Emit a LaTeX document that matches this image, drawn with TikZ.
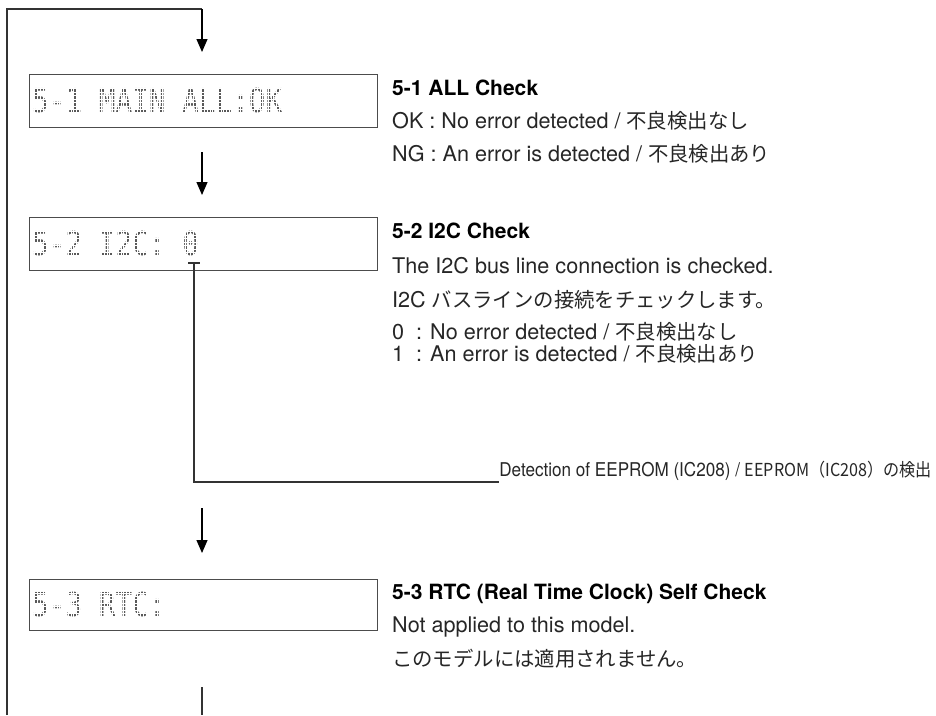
\documentclass[tikz,border=0pt]{standalone}
\usepackage{fontspec}
\setmainfont{TeX Gyre Heros}
\newfontfamily\jp{Noto Sans CJK JP}[Scale=0.943]
\newfontfamily\lcd{DejaVu Sans Mono}
\usetikzlibrary{arrows.meta}
\begin{document}
\begin{tikzpicture}[x=1pt,y=-1pt,
  lcdbox/.style={draw=black!70, line width=1.1pt, minimum width=348pt, minimum height=53pt, anchor=north west, inner sep=0pt},
  lcdtext/.style={anchor=base west, inner sep=0pt, text=black!65, font=\lcd\fontsize{27.7}{30}\selectfont},
  body/.style={anchor=base west, inner sep=0pt, text=black!85, font=\fontsize{21.6}{24}\selectfont},
  small/.style={anchor=base west, inner sep=0pt, text=black!85, font=\fontsize{19}{22}\selectfont},
  head/.style={anchor=base west, inner sep=0pt, text=black, font=\bfseries\fontsize{21}{24}\selectfont},
  conn/.style={line width=1.1pt, draw=black!80},
  arr/.style={line width=1.2pt, draw=black, -{Triangle[width=11pt,length=13pt]}},
  dotgrid/.style={draw=white, line width=0.8pt}
]
\useasboundingbox (0,0) rectangle (936,715);

% LCD boxes
\node[lcdbox] (b1) at (29,74) {};
\node[lcdbox] (b2) at (29,217) {};
\node[lcdbox, minimum height=51pt] (b3) at (29,579) {};

\node[lcdtext] (l1) at (32,112) {\scalebox{1}[1.19]{5-1 MAIN ALL:OK}};
\node[lcdtext] (l2) at (32,255) {\scalebox{1}[1.19]{5-2 I2C: 0}};
\node[lcdtext] (l3) at (32,616) {\scalebox{1}[1.19]{5-3 RTC:}};

% dot-matrix look: white grid over the LCD characters
\foreach \n in {l1,l2,l3}{
  \begin{scope}
    \clip ([yshift=-3pt]\n.base west) rectangle ([yshift=28pt]\n.base east);
    \foreach \i in {0,...,100}
      \draw[dotgrid] ([xshift=\i*2.78pt]\n.base west) ++(0,4) -- ++(0,-34);
    \foreach \j in {0,...,8}
      \draw[dotgrid] ([xshift=-2pt]\n.base west) ++(0,{0.9-\j*3.43}) -- ++(260,0);
  \end{scope}
}

% coordinates
\coordinate (bl) at (7,715);
\coordinate (tc) at (202,9);
\coordinate (a1) at (202,52);
\coordinate (s2) at (202,152);
\coordinate (a2) at (202,195);
\coordinate (s3) at (202,508);
\coordinate (a3) at (202,553);
\coordinate (s4) at (202,687);
\coordinate (e4) at (202,715);
\coordinate (u1) at (188,263);
\coordinate (u2) at (200,263);
\coordinate (u0) at (194,263);

% connectors
\draw[conn] (bl) |- (tc);
\draw[arr] (tc) -- (a1);
\draw[arr] (s2) -- (a2);
\draw[arr] (s3) -- (a3);
\draw[conn] (s4) -- (e4);
\draw[conn] (u1) -- (u2);

% texts
\node[head] (h1) at (392,95) {5-1 ALL Check};
\node[body] (t11) at (392,128) {OK : No error detected / {\jp 不良検出なし}};
\node[body] (t12) at (392,161) {NG : An error is detected / {\jp 不良検出あり}};

\node[head] (h2) at (392,238) {5-2 I2C Check};
\node[body] (t21) at (392,273) {The I2C bus line connection is checked.};
\node[body] (t22) at (392,307) {I2C {\jp バスラインの接続をチェックします。}};
\node[body] (t23) at (392,339) {\makebox[24pt][l]{0}: No error detected / {\jp 不良検出なし}};
\node[body] (t24) at (392,361) {\makebox[24pt][l]{1}: An error is detected / {\jp 不良検出あり}};

\node[small, anchor=base east] (det) at (932,476) {\scalebox{0.9}[1]{Detection of EEPROM (IC208) / {\jp EEPROM（IC208）の検出}}};
\draw[conn] (u0) |- ([yshift=-6pt]det.base west);

\node[head] (h3) at (392,599) {5-3 RTC (Real Time Clock) Self Check};
\node[body] (t31) at (392,632) {Not applied to this model.};
\node[body] (t32) at (392,666) {{\jp このモデルには適用されません。}};
\end{tikzpicture}
\end{document}
